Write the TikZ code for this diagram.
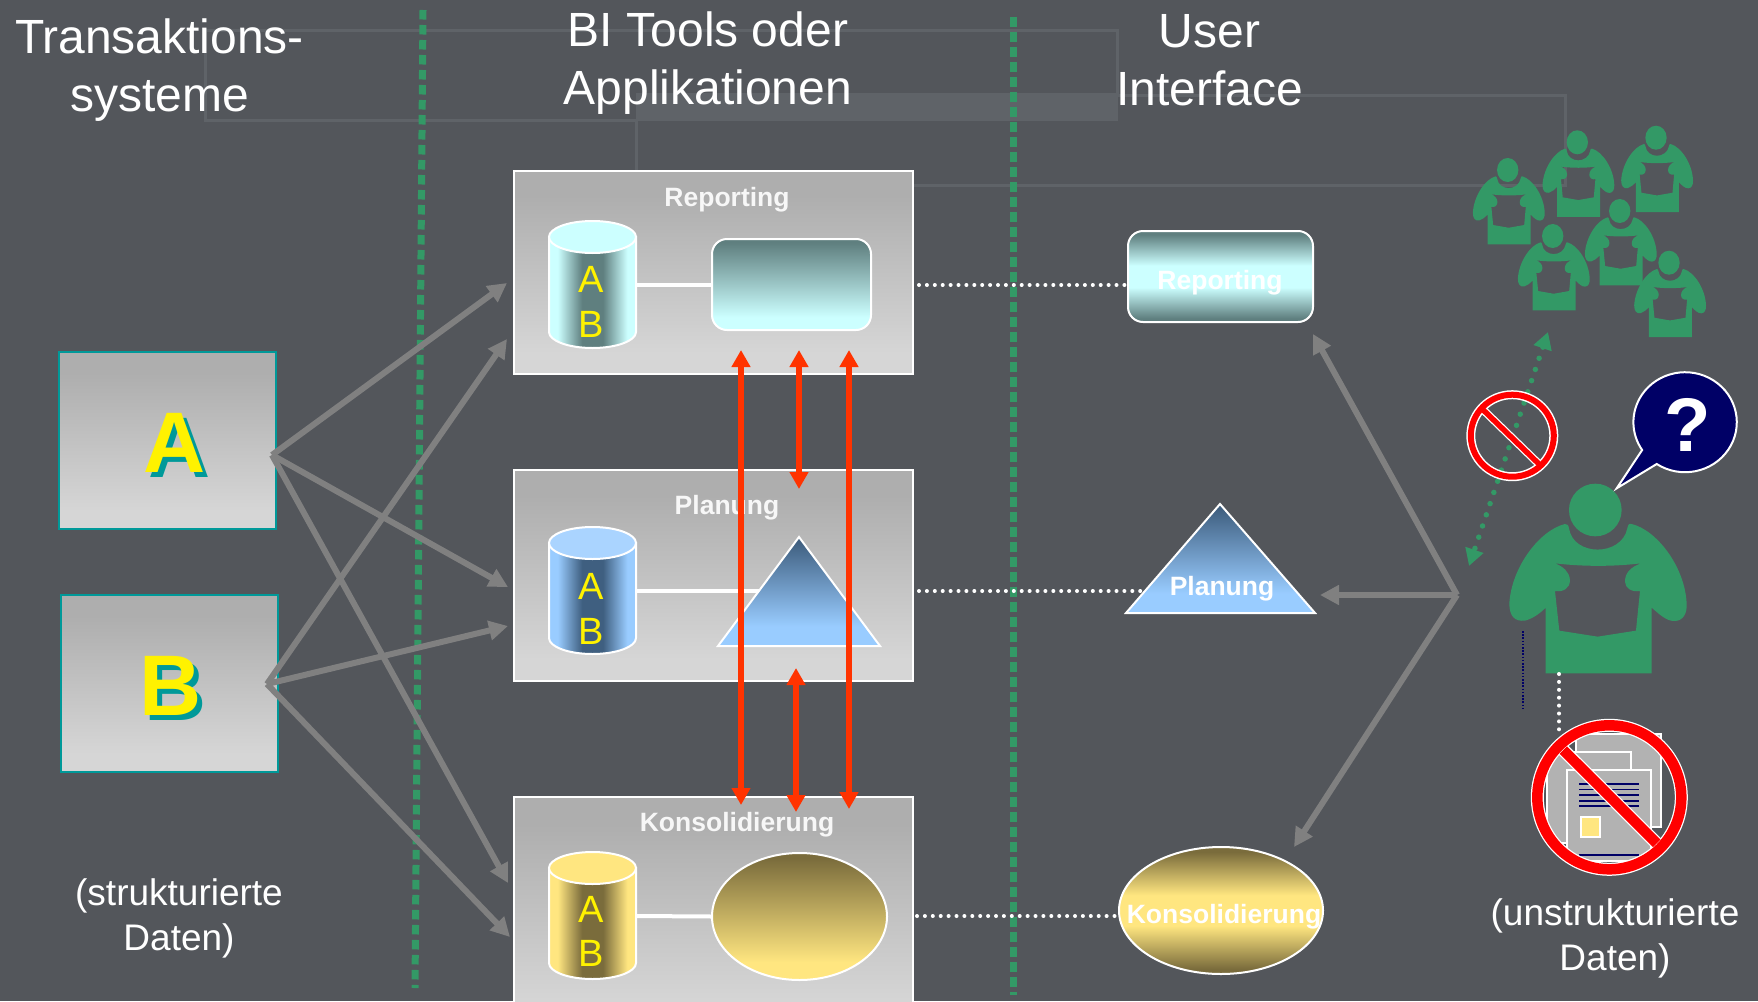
\documentclass[tikz,border=0pt]{standalone}
\usepackage{fontspec}
\setmainfont{Liberation Sans}
\usetikzlibrary{arrows.meta,shapes.geometric}
\definecolor{bgc}{HTML}{53565B}
\definecolor{faint}{HTML}{5F6368}
\definecolor{grn}{HTML}{339966}
\definecolor{teal}{HTML}{009999}
\definecolor{arrowgrey}{HTML}{808080}
\definecolor{redarrow}{HTML}{FF3300}
\definecolor{navy}{HTML}{000066}
\definecolor{docgrey}{HTML}{B2B2B2}
\definecolor{boxtop}{HTML}{AEAEAE}
\definecolor{boxbot}{HTML}{D6D6D6}
\definecolor{cyL}{HTML}{CCFFFF}
\definecolor{cyD}{HTML}{5F7F7F}
\definecolor{blL}{HTML}{99CCFF}
\definecolor{blT}{HTML}{AAD4FF}
\definecolor{blD}{HTML}{3F5F80}
\definecolor{goL}{HTML}{FFE680}
\definecolor{goD}{HTML}{7A6C3C}
\pgfdeclarehorizontalshading{cylcyan}{100bp}{color(0bp)=(cyL); color(30bp)=(cyL); color(44bp)=(cyD); color(56bp)=(cyD); color(70bp)=(cyL); color(100bp)=(cyL)}
\pgfdeclarehorizontalshading{cylblue}{100bp}{color(0bp)=(blL); color(30bp)=(blL); color(44bp)=(blD); color(56bp)=(blD); color(70bp)=(blL); color(100bp)=(blL)}
\pgfdeclarehorizontalshading{cylgold}{100bp}{color(0bp)=(goL); color(30bp)=(goL); color(44bp)=(goD); color(56bp)=(goD); color(70bp)=(goL); color(100bp)=(goL)}
\pgfdeclareverticalshading{panelgrad}{100bp}{color(0bp)=(boxbot); color(30bp)=(boxbot); color(69bp)=(boxtop); color(100bp)=(boxtop)}
\pgfdeclareverticalshading{cyanup}{100bp}{color(0bp)=(cyL); color(32bp)=(cyL); color(73bp)=(cyD); color(100bp)=(cyD)}
\pgfdeclareverticalshading{blueup}{100bp}{color(0bp)=(blL); color(34bp)=(blL); color(73bp)=(blD); color(100bp)=(blD)}
\pgfdeclareverticalshading{goldup}{100bp}{color(0bp)=(goL); color(32bp)=(goL); color(73bp)=(goD); color(100bp)=(goD)}
\pgfdeclareverticalshading{cyanband}{100bp}{color(0bp)=(cyD); color(27bp)=(cyD); color(44bp)=(cyL); color(56bp)=(cyL); color(73bp)=(cyD); color(100bp)=(cyD)}
\pgfdeclareverticalshading{goldband}{100bp}{color(0bp)=(goD); color(27bp)=(goD); color(44bp)=(goL); color(56bp)=(goL); color(73bp)=(goD); color(100bp)=(goD)}
\newcommand{\cylfig}[5]{% centre x, top y, bottom y, shading, top colour
  \path[draw=white,line width=2pt,shading=#4] (#1-43.5,#2) -- (#1-43.5,#3) arc[start angle=180,end angle=0,x radius=43.5,y radius=16] -- (#1+43.5,#2) -- cycle;
  \path[draw=white,line width=2pt,fill=#5] (#1,#2) ellipse[x radius=43.5,y radius=16];
}
\newcommand{\personfig}[4]{%
  \begin{scope}[shift={(#1,#2)},xscale=#3,yscale=#4,shift={(-466,-450)}]
    \fill[grn] (466,450) ellipse[x radius=79,y radius=79];
    \fill[grn,even odd rule]
      (375,492) .. controls (300,510) and (215,620) .. (208,730)
      .. controls (208,770) and (225,785) .. (255,782)
      .. controls (280,775) and (300,760) .. (317,743)
      -- (317,940) -- (635,940) -- (635,743)
      .. controls (655,760) and (680,785) .. (705,783)
      .. controls (730,782) and (742,760) .. (740,730)
      .. controls (735,620) and (650,510) .. (575,492)
      .. controls (565,490) and (565,495) .. (562,505)
      .. controls (545,590) and (400,590) .. (387,505)
      .. controls (385,495) and (383,492) .. (375,492) -- cycle
      (345,610) .. controls (430,620) and (520,620) .. (603,610)
      .. controls (570,622) and (555,640) .. (555,665)
      .. controls (556,685) and (575,697) .. (600,693)
      -- (588,812) -- (473,830) -- (358,812) -- (345,693)
      .. controls (370,697) and (390,685) .. (390,660)
      .. controls (388,635) and (370,620) .. (345,610) -- cycle;
  \end{scope}}
\tikzset{
  title/.style={text=white,align=center,inner sep=0pt,font=\fontsize{48}{58}\selectfont},
  note/.style={text=white,align=center,inner sep=0pt,font=\fontsize{37}{44.5}\selectfont},
  boxlabel/.style={text=white!97!black,inner sep=0pt,font=\fontsize{26.5}{30}\selectfont\bfseries},
  cyltext/.style={text=yellow,inner sep=0pt,anchor=base,font=\fontsize{38}{40}\selectfont},
  panel/.style={rectangle,draw=white,line width=2pt,shading=panelgrad,inner sep=0pt,outer sep=0pt},
  source/.style={rectangle,draw=teal,line width=2pt,shading=panelgrad,inner sep=0pt,outer sep=0pt},
  bigletter/.style={inner sep=0pt,anchor=base,font=\fontsize{86}{90}\selectfont\bfseries},
  greyarrow/.style={draw=arrowgrey,line width=6pt,-{Triangle[length=19pt,width=19pt]}},
  redboth/.style={draw=redarrow,line width=6pt,{Triangle[length=17pt,width=18pt]}-{Triangle[length=17pt,width=18pt]}},
  whitedots/.style={draw=white,line width=4pt,line cap=round,dash pattern=on 0pt off 7.9pt},
  divider/.style={draw=grn,line width=7pt,dash pattern=on 9.5pt off 5.5pt},
  whitebar/.style={draw=white,line width=4pt},
  docsheet/.style={fill=docgrey,draw=white,line width=2pt},
  docline/.style={draw=navy,line width=1.8pt},
}
\begin{document}
\begin{tikzpicture}[x=1pt,y=-1pt]
\useasboundingbox (0,0) rectangle (1758,1001);
\fill[bgc] (0,0) rectangle (1758,1001);
% faint background lines
\fill[faint] (636,93) rectangle (1118,121);
\draw[faint,line width=3pt] (636,120) -- (205,120) -- (205,30) -- (1117,30) -- (1117,95) -- (1565,95) -- (1565,185) -- (912,185);
\draw[faint,line width=3pt] (636,120) -- (636,172);
% dividers
\coordinate (d1a) at (423,10); \coordinate (d1b) at (415,988);
\coordinate (d2a) at (1013,17); \coordinate (d2b) at (1013,995);
\draw[divider] (d1a) -- (d1b);
\draw[divider] (d2a) -- (d2b);
% titles
\node[title] (t1) at (159.5,70.5) {Transaktions-\\systeme};
\node[title] (t2) at (708,63.5) {BI Tools oder\\Applikationen};
\node[title] (t3) at (1209.5,60) {User\\Interface};
\node[note] (n1) at (179,918.5) {(strukturierte\\Daten)};
\node[note] (n2) at (1615,938.5) {(unstrukturierte\\Daten)};
% source boxes
\node[source,minimum width=217pt,minimum height=177pt] (A) at (167.5,440.5) {};
\node[source,minimum width=217pt,minimum height=177pt] (B) at (169.5,683.5) {};
\node[bigletter,text=teal] (As) at (180,477) {A};
\node[bigletter,text=yellow] (Al) at (175,472) {A};
\node[bigletter,text=teal] (Bs) at (176,720) {B};
\node[bigletter,text=yellow] (Bl) at (171,715) {B};
% panels
\node[panel,minimum width=399pt,minimum height=203pt] (P1) at (713.5,272.5) {};
\node[panel,minimum width=399pt,minimum height=211pt] (P2) at (713.5,575.5) {};
\node[panel,minimum width=399pt,minimum height=230pt] (P3) at (713.5,912) {};
\node[boxlabel] (L1) at (727,199.5) {Reporting};
\node[boxlabel] (L2) at (727,507.5) {Planung};
\node[boxlabel] (L3) at (737,824.5) {Konsolidierung};
% connectors in panels
\coordinate (c1) at (636,285); \coordinate (c2) at (636,591); \coordinate (c3) at (636,916);
\node[rectangle,rounded corners=15pt,draw=white,line width=2pt,shading=cyanup,minimum width=159pt,minimum height=91pt,inner sep=0pt,outer sep=0pt] (R1) at (791.5,284.5) {};
\coordinate (tA) at (799,537); \coordinate (tB) at (880,646); \coordinate (tC) at (718,646); \coordinate (tM) at (760,591);
\node[ellipse,draw=white,line width=2pt,shading=goldup,minimum width=175pt,minimum height=127pt,inner sep=0pt,outer sep=0pt] (E1) at (799.5,916.5) {};
\draw[whitebar] (c1) -- (R1.west |- c1);
\draw[whitebar] (c2) -- (tM);
\draw[whitebar] (c3) -- (E1.west);
\path[draw=white,line width=2pt,line join=miter,shading=blueup] (tA) -- (tB) -- (tC) -- cycle;
% cylinders
\cylfig{592.5}{237}{332}{cylcyan}{cyL}
\cylfig{592.5}{543}{638}{cylblue}{blT}
\cylfig{592.5}{868}{963}{cylgold}{goL}
\node[cyltext] (ca1) at (591,292) {A};
\node[cyltext] (cb1) at (591,337) {B};
\node[cyltext] (ca2) at (591,599) {A};
\node[cyltext] (cb2) at (591,644) {B};
\node[cyltext] (ca3) at (591,922) {A};
\node[cyltext] (cb3) at (591,966) {B};
% grey arrows from sources
\coordinate (hA) at (272,455); \coordinate (hB) at (267,684);
\coordinate (aA1) at (507,283); \coordinate (aA2) at (508,587); \coordinate (aA3) at (508,883);
\coordinate (aB1) at (507,339); \coordinate (aB2) at (508,626); \coordinate (aB3) at (510,937);
\draw[greyarrow] (hA) -- (aA1);
\draw[greyarrow] (hA) -- (aA2);
\draw[greyarrow] (hA) -- (aA3);
\draw[greyarrow] (hB) -- (aB1);
\draw[greyarrow] (hB) -- (aB2);
\draw[greyarrow] (hB) -- (aB3);
% red arrows
\coordinate (ra1) at (741,350); \coordinate (ra2) at (741,805);
\coordinate (rb1) at (799,350); \coordinate (rb2) at (799,489);
\coordinate (rc1) at (796,668); \coordinate (rc2) at (796,812);
\coordinate (rd1) at (849,350); \coordinate (rd2) at (849,809);
\draw[redboth] (ra1) -- (ra2);
\draw[redboth] (rb1) -- (rb2);
\draw[redboth] (rc1) -- (rc2);
\draw[redboth] (rd1) -- (rd2);
% user interface shapes
\node[rectangle,rounded corners=15pt,draw=white,line width=2pt,shading=cyanband,minimum width=185pt,minimum height=91pt,inner sep=0pt,outer sep=0pt] (U1) at (1220.5,276.5) {};
\coordinate (uA) at (1220,504); \coordinate (uB) at (1315,613); \coordinate (uC) at (1126,613);
\path[draw=white,line width=2pt,line join=miter,shading=blueup] (uA) -- (uB) -- (uC) -- cycle;
\node[ellipse,draw=white,line width=2pt,shading=goldband,minimum width=204pt,minimum height=127pt,inner sep=0pt,outer sep=0pt] (U3) at (1221,910.5) {};
\node[boxlabel,text=white] (UL1) at (1220,283) {Reporting};
\node[boxlabel,text=white] (UL2) at (1222,589) {Planung};
\node[boxlabel,text=white] (UL3) at (1224,916.5) {Konsolidierung};
% dotted links
\coordinate (w1a) at (919,285); \coordinate (w1b) at (1126,285);
\coordinate (w2a) at (919,591); \coordinate (w2b) at (1146,591);
\coordinate (w3a) at (917,916); \coordinate (w3b) at (1118,916);
\draw[whitedots] (w1a) -- (w1b);
\draw[whitedots] (w2a) -- (w2b);
\draw[whitedots] (w3a) -- (w3b);
% arrows to user interface
\coordinate (hub) at (1457,595);
\coordinate (uT1) at (1313,334); \coordinate (uT2) at (1320,595); \coordinate (uT3) at (1294,847);
\draw[greyarrow] (hub) -- (uT1);
\draw[greyarrow] (hub) -- (uT2);
\draw[greyarrow] (hub) -- (uT3);
% people
\personfig{1507.7}{170}{0.135}{0.152}
\personfig{1577.3}{142.3}{0.135}{0.152}
\personfig{1656}{137.7}{0.135}{0.152}
\personfig{1552.7}{236}{0.135}{0.152}
\personfig{1619.7}{211}{0.135}{0.152}
\personfig{1669}{262.7}{0.135}{0.152}
\personfig{1595.3}{510}{0.3333}{0.3333}
% dotted green double arrow
\coordinate (g1) at (1548,332); \coordinate (g2) at (1469,566);
\draw[draw=grn,line width=5.5pt,line cap=round,dash pattern=on 0pt off 11.8pt,{Triangle[length=17pt,width=18pt]}-{Triangle[length=17pt,width=18pt]}] (g1) -- (g2);
% prohibition over the arrow
\coordinate (s1a) at (1483.3,410); \coordinate (s1b) at (1540,465);
\draw[white,line width=9pt] (1512.3,435.7) ellipse[x radius=41.5,y radius=41];
\draw[white,line width=8pt] (s1a) -- (s1b);
\draw[red,line width=6pt] (1512.3,435.7) ellipse[x radius=41.5,y radius=41];
\draw[red,line width=5.5pt] (s1a) -- (s1b);
% speech bubble
\coordinate (tip) at (1616.7,488.3);
\path[draw=white,line width=2pt,fill=navy,line join=miter] (1656.7,464) arc[start angle=123.3,end angle=-213.8,x radius=51.7,y radius=50] -- (tip) -- cycle;
\node[inner sep=0pt,anchor=base,text=white,font=\fontsize{76}{80}\selectfont\bfseries] (q) at (1687.5,451.7) {?};
% thin dotted lines
\coordinate (nv1) at (1522.7,631); \coordinate (nv2) at (1522.7,708);
\draw[draw=navy,line width=1.6pt,dash pattern=on 1.6pt off 1.6pt] (nv1) -- (nv2);
\coordinate (wv1) at (1559,674); \coordinate (wv2) at (1559,732);
\draw[whitedots] (wv1) -- (wv2);
% documents
\draw[docsheet] (1576,733.5) rectangle (1661,827);
\draw[docsheet] (1547,752) rectangle (1631,843);
\draw[docsheet] (1567,770) rectangle (1651,861);
\foreach \yy in {784,789.5,795,800.7,806,855.3} \draw[docline] (1579.3,\yy) -- (1639,\yy);
\draw[fill=goL,draw=white,line width=2pt] (1581,817.3) rectangle (1600,836.7);
% prohibition over documents
\coordinate (s2a) at (1563.3,750); \coordinate (s2b) at (1656.7,843.3);
\draw[white,line width=13pt] (1609.3,797.3) circle[radius=72];
\draw[white,line width=13pt] (s2a) -- (s2b);
\draw[red,line width=10.5pt] (1609.3,797.3) circle[radius=72];
\draw[red,line width=10.5pt] (s2a) -- (s2b);
\end{tikzpicture}
\end{document}
